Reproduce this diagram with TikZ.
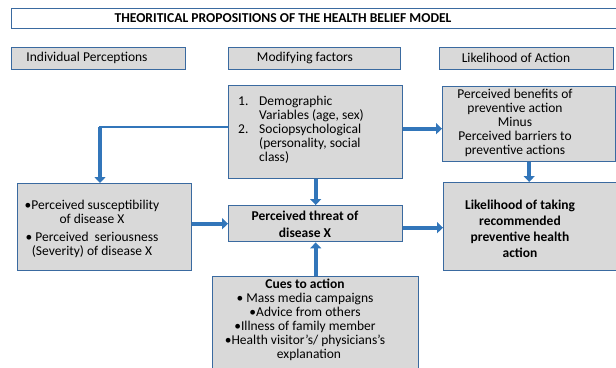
\documentclass[tikz,border=0pt]{standalone}
\usepackage{fontspec}
\setmainfont{Carlito}
\usetikzlibrary{arrows.meta,calc}
\definecolor{boxedge}{RGB}{58,106,160}
\definecolor{boxfill}{RGB}{217,217,217}
\definecolor{arrblue}{RGB}{50,118,186}
\begin{document}
\begin{tikzpicture}[x=1pt,y=-1pt,
  box/.style={draw=boxedge,line width=1.4pt,fill=boxfill,inner sep=0pt,anchor=north west},
  txt/.style={font=\fontsize{13.5}{14}\selectfont,inner sep=0pt,align=center},
  arr/.style={draw=arrblue,line width=4pt,-{Triangle[width=11pt,length=6pt]}},
  thinline/.style={draw=arrblue,line width=2.2pt}]
\useasboundingbox (0,0) rectangle (616,367);
% boxes
\node[box,fill=white,minimum width=620pt,minimum height=20pt] (title) at (11,8) {};
\node[box,minimum width=174pt,minimum height=22pt] (h1) at (11,47) {};
\node[box,minimum width=172pt,minimum height=22pt] (h2) at (228,47) {};
\node[box,minimum width=174pt,minimum height=22pt] (h3) at (439,47) {};
\node[box,minimum width=174pt,minimum height=93pt] (demo) at (228,85) {};
\node[box,minimum width=173pt,minimum height=75pt] (ben) at (442,86) {};
\node[box,minimum width=174pt,minimum height=87pt] (left) at (17,183) {};
\node[box,minimum width=174pt,minimum height=36pt] (threat) at (228,205) {};
\node[box,minimum width=180pt,minimum height=88pt] (lik) at (443,182) {};
\node[box,minimum width=206pt,minimum height=100pt] (cues) at (212,276) {};
% texts
\node[txt,font=\bfseries\fontsize{13.6}{14}\selectfont] (titlet) at (283,18) {THEORITICAL PROPOSITIONS OF THE HEALTH BELIEF MODEL};
\node[txt] (h1t) at (87,58) {Individual Perceptions};
\node[txt] (h2t) at (305,58) {Modifying factors};
\node[txt] (h3t) at (516,58) {Likelihood of Action};
\node[txt,align=left,anchor=west] (demot) at (238,129.5) {\makebox[21pt][l]{1.}Demographic\\\hspace*{21pt}Variables (age, sex)\\\makebox[21pt][l]{2.}Sociopsychological\\\hspace*{21pt}(personality, social\\\hspace*{21pt}class)};
\node[txt] (bent) at (515,123) {Perceived benefits of\\preventive action\\Minus\\Perceived barriers to\\preventive actions};
\node[txt] (leftt) at (92,228.5) {•Perceived susceptibility\\of disease X\\[4pt]• Perceived\ \ seriousness\\(Severity) of disease X};
\node[txt,font=\bfseries\fontsize{13.5}{17}\selectfont] (threatt) at (305,224) {Perceived threat of\\disease X};
\node[txt,font=\bfseries\fontsize{13.5}{16}\selectfont] (likt) at (520,228.5) {Likelihood of taking\\recommended\\preventive health\\action};
\node[txt] (cuest) at (305,320) {\textbf{Cues to action}\\• Mass media campaigns\\•Advice from others\\•Illness of family member\\•Health visitor’s/ physicians’s\\\hspace*{8pt}explanation};
% connectors
\coordinate (bend) at (100,127);
\draw[thinline] (bend -| demo.west) -- ([xshift=-1.1pt]bend);
\draw[arr] (bend) -- (bend |- left.north);
\draw[arr] ([yshift=3.5pt]demo.east) -- ([yshift=3.5pt]demo.east -| ben.west);
\draw[arr] (demo.south) -- (threat.north);
\draw[arr] (threat.west -| left.east) -- (threat.west);
\draw[arr] (cues.north) -- (threat.south);
\draw[arr] ([yshift=-4pt]threat.east) -- ([yshift=-4pt]threat.east -| lik.west);
\draw[arr] (ben.south) -- (ben.south |- lik.north);
\end{tikzpicture}
\end{document}
